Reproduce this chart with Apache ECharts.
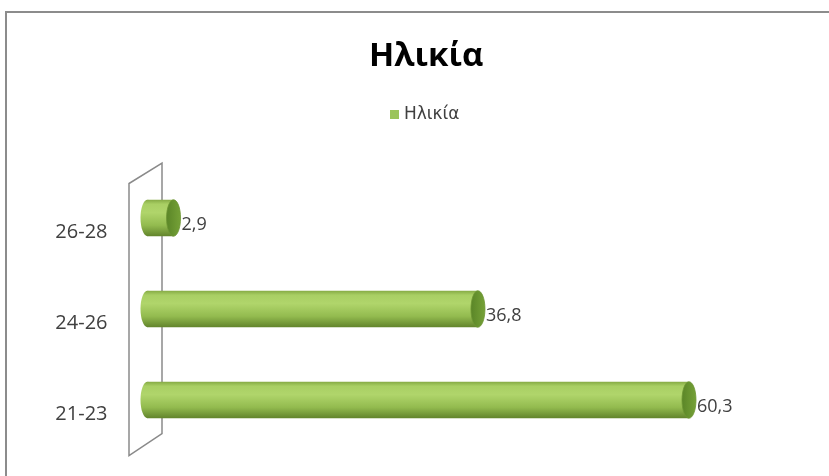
<!DOCTYPE html>
<html>
<head>
<meta charset="utf-8">
<script src="https://cdn.jsdelivr.net/npm/echarts@6/dist/echarts.min.js"></script>
<style>
  html, body { margin: 0; padding: 0; background: #fff; }
  #chart { width: 829px; height: 476px; }
</style>
</head>
<body>
<div id="chart"></div>
<script>
// Age groups, bottom to top
var categories = ['21-23', '24-26', '26-28'];
var values = [60.3, 36.8, 2.9];
var seriesName = 'Ηλικία';

var GRID_LEFT = 147.5, GRID_TOP = 172.5, GRID_W = 628.6, GRID_H = 273;
var FONT = '"Open Sans", "DejaVu Sans", sans-serif';

function fmt(v) {
    return String(v).replace('.', ',');
}

var chart = echarts.init(document.getElementById('chart'));

function renderCyl(params, api) {
    var cat = api.value(0);
    var val = api.value(1);
    var s = api.coord([0, cat]);
    var e = api.coord([val, cat]);
    var h = api.size([0, 1])[1] * 0.4;
    var ry = h / 2, rx = 7;
    var body = {
        type: 'linear', x: 0, y: 0, x2: 0, y2: 1,
        colorStops: [
            {offset: 0, color: '#86ab45'},
            {offset: 0.12, color: '#a9cf64'},
            {offset: 0.35, color: '#b0d56b'},
            {offset: 0.7, color: '#93bb4f'},
            {offset: 1, color: '#62842c'}
        ]
    };
    var cap = {
        type: 'linear', x: 0, y: 0, x2: 1, y2: 0,
        colorStops: [
            {offset: 0, color: '#5a8527'},
            {offset: 1, color: '#76a238'}
        ]
    };
    return {
        type: 'group',
        children: [
            { type: 'ellipse', shape: {cx: s[0], cy: s[1], rx: rx, ry: ry}, style: {fill: body} },
            { type: 'rect', shape: {x: s[0], y: s[1] - ry, width: e[0] - s[0], height: h}, style: {fill: body} },
            { type: 'ellipse', shape: {cx: e[0], cy: e[1], rx: rx, ry: ry},
              style: {fill: cap, stroke: '#6d9534', lineWidth: 0.8} },
            { type: 'text', x: e[0] + 8, y: e[1] + 7,
              style: {text: fmt(val), fill: '#404040', font: '18px ' + FONT,
                      textVerticalAlign: 'middle', verticalAlign: 'middle'} }
        ]
    };
}

// 3D back wall behind the bars
var wl = GRID_LEFT - 18.5, wr = GRID_LEFT + 14.5;
var option = {
    animation: false,
    title: {
        text: 'Ηλικία',
        left: 364, top: 35,
        textStyle: {fontSize: 33, fontWeight: 'bold', color: '#000', fontFamily: FONT}
    },
    legend: {
        data: [seriesName],
        left: 385, top: 101,
        itemWidth: 9, itemHeight: 9, itemGap: 10,
        icon: 'rect',
        textStyle: {fontSize: 17, color: '#404040', fontFamily: '"DejaVu Sans", sans-serif'}
    },
    grid: {left: GRID_LEFT, top: GRID_TOP, width: GRID_W, height: GRID_H},
    xAxis: {
        type: 'value', min: 0, max: 70, show: false,
        splitLine: {show: false}
    },
    yAxis: {
        type: 'category',
        data: categories,
        axisLine: {show: false},
        axisTick: {show: false},
        axisLabel: {
            margin: 40, fontSize: 20, color: '#404040', fontFamily: FONT,
            verticalAlign: 'top', lineHeight: 29
        }
    },
    graphic: [
        { type: 'polyline', z: 0,
          shape: {points: [[6, 476], [6, 12], [829, 12]]},
          style: {stroke: '#8c8c8c', lineWidth: 2, fill: null} },
        { type: 'polygon', z: 0,
          shape: {points: [[wl, GRID_TOP + GRID_H + 10], [wl, GRID_TOP + 11],
                           [wr, GRID_TOP - 9.5], [wr, GRID_TOP + GRID_H - 12]]},
          style: {stroke: '#8a8a8a', lineWidth: 1.5, fill: null} }
    ],
    series: [{
        name: seriesName,
        type: 'custom',
        z: 5,
        itemStyle: {color: '#9bc45a'},
        renderItem: renderCyl,
        encode: {x: 1, y: 0},
        data: values.map(function (v, i) { return [i, v]; })
    }]
};

chart.setOption(option);
</script>
</body>
</html>
